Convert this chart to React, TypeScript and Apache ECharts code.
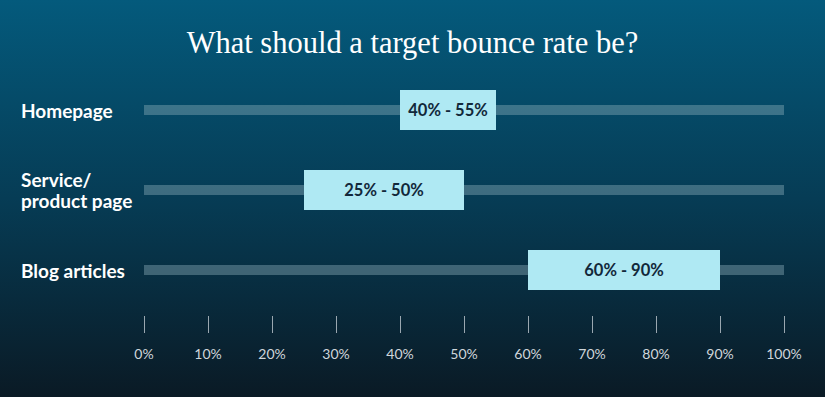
import React, { useEffect, useRef } from "react";
import * as echarts from "echarts";

const categories = ["Homepage", "Service/\nproduct page", "Blog articles"];
const rangeLow = [40, 25, 60];
const rangeHigh = [55, 50, 90];
const trackMax = [100, 100, 100];
const xTicks = [0, 100, 10];

export default function App() {
  const ref = useRef<HTMLDivElement>(null);
  useEffect(() => {
    document.body.style.margin = "0";
    const chart = echarts.init(ref.current!, undefined, { renderer: "svg" });
    chart.setOption({
      animation: false,
      backgroundColor: new echarts.graphic.LinearGradient(0, 0, 0, 1, [
        { offset: 0, color: "#045a7c" },
        { offset: 0.5, color: "#063c55" },
        { offset: 1, color: "#0a1a25" },
      ]),
      title: {
        text: "What should a target bounce rate be?",
        left: "center",
        top: 22,
        textStyle: {
          fontFamily: "Liberation Serif",
          fontWeight: "normal",
          fontSize: 30.5,
          color: "#ffffff",
        },
      },
      grid: { left: 144, right: 41, top: 70, height: 240 },
      xAxis: {
        type: "value",
        min: xTicks[0],
        max: xTicks[1],
        interval: xTicks[2],
        offset: 6,
        axisLine: { show: false },
        splitLine: { show: false },
        axisTick: { show: true, length: 17, lineStyle: { color: "#9aa7b0", width: 1 } },
        axisLabel: {
          margin: 30,
          formatter: "{value}%",
          color: "#cfd6db",
          fontFamily: "Lato",
          fontSize: 14,
        },
      },
      yAxis: [
        {
          type: "category",
          data: categories,
          inverse: true,
          axisLine: { show: false },
          axisTick: { show: false },
          axisLabel: {
            align: "left",
            margin: 123,
            color: "#ffffff",
            fontFamily: "Lato",
            fontWeight: "bold",
            fontSize: 19,
            lineHeight: 21,
          },
        },
        {
          type: "category",
          data: categories,
          inverse: true,
          show: false,
        },
      ],
      series: [
        {
          type: "bar",
          yAxisIndex: 1,
          data: trackMax,
          barWidth: 10,
          itemStyle: { color: "rgba(140,175,185,0.42)" },
          silent: true,
          z: 1,
        },
        {
          type: "bar",
          stack: "range",
          data: rangeLow,
          barWidth: 40,
          itemStyle: { color: "transparent" },
          silent: true,
          z: 2,
        },
        {
          type: "bar",
          stack: "range",
          data: rangeHigh.map((h, i) => h - rangeLow[i]),
          barWidth: 40,
          itemStyle: { color: "#afe9f3" },
          z: 3,
          label: {
            show: true,
            position: "inside",
            formatter: (p: any) => `${rangeLow[p.dataIndex]}% - ${rangeHigh[p.dataIndex]}%`,
            color: "#12283a",
            fontFamily: "Lato",
            fontWeight: "bold",
            fontSize: 16.5,
          },
        },
      ],
    });
    return () => chart.dispose();
  }, []);
  return <div ref={ref} style={{ width: 825, height: 397 }} />;
}
